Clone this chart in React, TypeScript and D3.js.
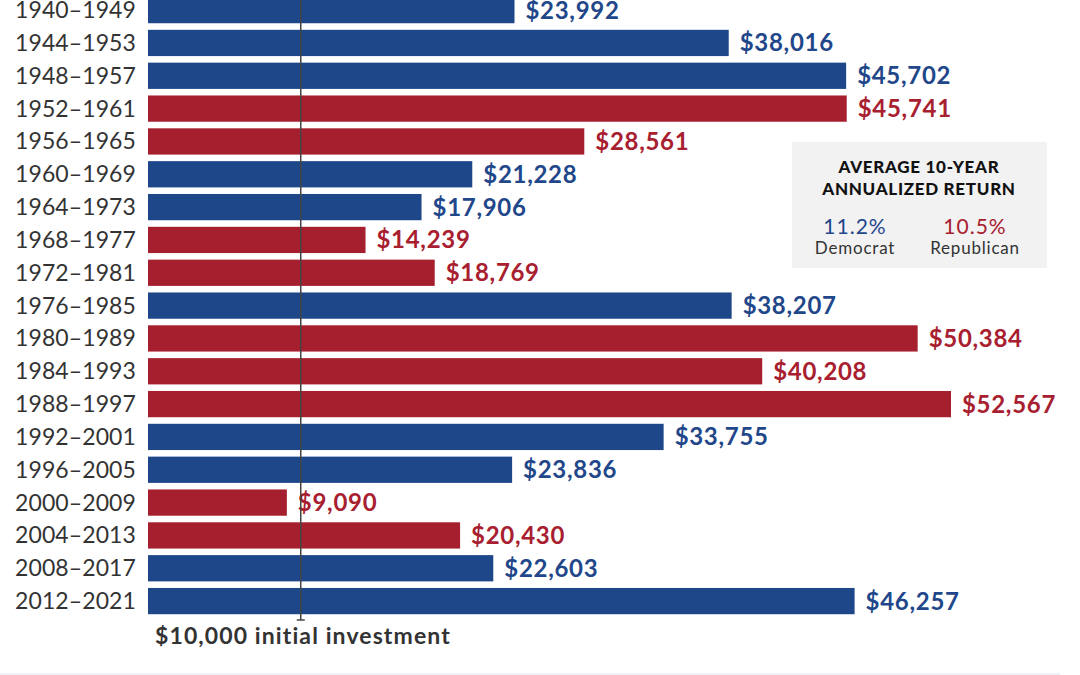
import React from "react";
import * as d3 from "d3";

const periods = [
  "1940–1949", "1944–1953", "1948–1957", "1952–1961", "1956–1965", "1960–1969",
  "1964–1973", "1968–1977", "1972–1981", "1976–1985", "1980–1989", "1984–1993",
  "1988–1997", "1992–2001", "1996–2005", "2000–2009", "2004–2013", "2008–2017",
  "2012–2021",
];
const endValues = [
  23992, 38016, 45702, 45741, 28561, 21228, 17906, 14239, 18769, 38207, 50384,
  40208, 52567, 33755, 23836, 9090, 20430, 22603, 46257,
];
const parties = [
  "D", "D", "D", "R", "R", "D", "D", "R", "R", "D", "R", "R", "R", "D", "D",
  "R", "R", "D", "D",
];
const initialInvestment = 10000;
const legendValues = ["11.2%", "10.5%"];
const legendLabels = ["Democrat", "Republican"];

const W = 1080;
const H = 675;
const BLUE = "#1e4789";
const RED = "#a61f2e";
const BLUE_T = "#1f478a";
const RED_T = "#a8202f";
const FONT = "Lato, 'Open Sans', sans-serif";

export default function App() {
  const x = d3.scaleLinear().domain([0, 52567]).range([148, 951]);
  const y = d3
    .scaleBand<string>()
    .domain(periods)
    .range([-6.3, 617.5])
    .paddingInner(0.2)
    .paddingOuter(0.1);
  const fmt = d3.format("$,");
  const x10 = x(initialInvestment);

  return (
    <div style={{ position: "absolute", left: 0, top: 0, margin: 0 }}>
      <svg width={W} height={H} style={{ display: "block", fontFamily: FONT }}>
        <rect x={0} y={0} width={W} height={H} fill="#ffffff" />
        {periods.map((p, i) => {
          const yy = y(p)!;
          const bw = y.bandwidth();
          const v = endValues[i];
          const isD = parties[i] === "D";
          return (
            <g key={p}>
              <text
                x={136}
                y={yy + bw / 2 + 8}
                textAnchor="end"
                fontSize={23}
                letterSpacing={0.1}
                fill="#333333"
                fontWeight={400}
              >
                {p}
              </text>
              <rect
                x={x(0)}
                y={yy}
                width={x(v) - x(0)}
                height={bw}
                fill={isD ? BLUE : RED}
              />
              <text
                x={x(v) + 11}
                y={yy + bw / 2 + 8.5}
                fontSize={24}
                letterSpacing={0.7}
                fontWeight={700}
                fill={isD ? BLUE_T : RED_T}
              >
                {fmt(v)}
              </text>
            </g>
          );
        })}
        <line x1={x10} x2={x10} y1={0} y2={620} stroke="#444444" strokeWidth={1.5} />
        <line x1={x10 - 4} x2={x10 + 4} y1={620} y2={620} stroke="#444444" strokeWidth={1.5} />
        <text x={155} y={644} fontSize={23} letterSpacing={1.1} fontWeight={700} fill="#333333">
          {fmt(initialInvestment)} initial investment
        </text>

        <g>
          <rect x={792} y={142} width={255} height={126} fill="#f2f2f2" />
          <text x={919} y={173} textAnchor="middle" fontSize={17} letterSpacing={0.7} fontWeight={900} fill="#111111">
            AVERAGE 10-YEAR
          </text>
          <text x={919} y={195} textAnchor="middle" fontSize={17} letterSpacing={0.7} fontWeight={900} fill="#111111">
            ANNUALIZED RETURN
          </text>
          <text x={855} y={234} textAnchor="middle" fontSize={21} letterSpacing={1} fontWeight={400} fill={BLUE_T}>
            {legendValues[0]}
          </text>
          <text x={975} y={234} textAnchor="middle" fontSize={21} letterSpacing={1} fontWeight={400} fill={RED_T}>
            {legendValues[1]}
          </text>
          <text x={855} y={254} textAnchor="middle" fontSize={17} letterSpacing={0.8} fill="#333333">
            {legendLabels[0]}
          </text>
          <text x={975} y={254} textAnchor="middle" fontSize={17} letterSpacing={0.8} fill="#333333">
            {legendLabels[1]}
          </text>
        </g>
        <rect x={0} y={673} width={1060} height={2} fill="#eef1f6" />
      </svg>
    </div>
  );
}
